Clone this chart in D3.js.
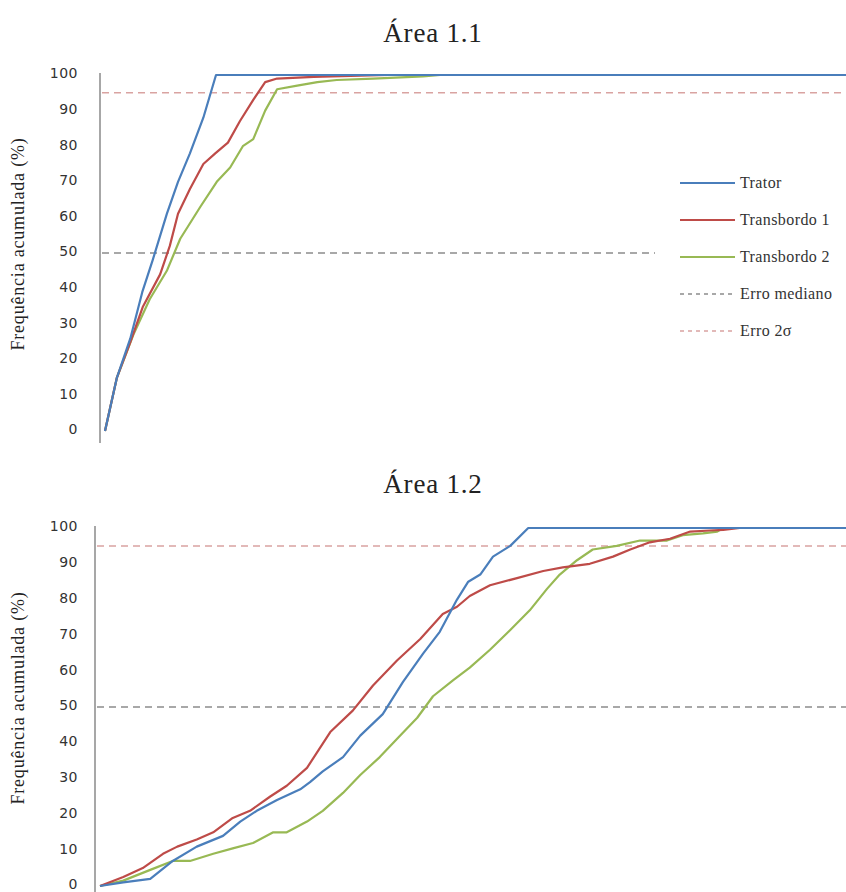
<!DOCTYPE html>
<html>
<head>
<meta charset="utf-8">
<script src="https://cdn.jsdelivr.net/npm/d3@7"></script>
<style>
  body { margin: 0; background: #fff; }
  svg { display: block; }
</style>
</head>
<body>
<svg id="chart" width="846" height="892"></svg>
<script>
// ---- data ----
var seriesNames = ["Trator", "Transbordo 1", "Transbordo 2"];
var refNames = ["Erro mediano", "Erro 2σ"];
var refValues = [50, 95];
var yTicks = [0, 10, 20, 30, 40, 50, 60, 70, 80, 90, 100];

// Área 1.1  [x, frequência acumulada %]
var a11_trator = [[0,0],[0.16,15],[0.34,26],[0.5,39],[0.64,48],[0.83,61],[0.98,70],[1.14,78],[1.32,88],[1.49,100],[10,100]];
var a11_transb1 = [[0,0],[0.16,15],[0.34,25],[0.51,35],[0.74,44],[0.87,52],[0.98,61],[1.14,68],[1.32,75],[1.48,78],[1.65,81],
                   [1.81,87],[1.99,93],[2.15,98],[2.31,99],[2.8,99.5],[3.8,100],[10,100]];
var a11_transb2 = [[0,0],[0.16,15],[0.38,27],[0.6,37],[0.83,45],[1.01,54],[1.28,63],[1.5,70],[1.68,74],[1.85,80],[1.99,82],
                   [2.15,90],[2.31,96],[2.58,97],[2.85,98],[3.11,98.6],[3.6,99],[4.27,99.6],[4.5,100],[10,100]];

// Área 1.2
var a12_trator = [[0,0],[0.31,1],[0.67,2],[0.97,7],[1.29,11],[1.64,14],[1.87,18],[2.09,21],[2.36,24],[2.67,27],[2.8,29],
                  [2.97,32],[3.24,36],[3.47,42],[3.77,48],[4.04,57],[4.31,65],[4.53,71],[4.76,80],[4.91,85],[5.07,87],
                  [5.24,92],[5.47,95],[5.71,100],[10,100]];
var a12_transb1 = [[0,0],[0.31,2.5],[0.57,5],[0.84,9],[1.03,11],[1.29,13],[1.51,15],[1.77,19],[2.0,21],[2.27,25],[2.49,28],
                   [2.76,33],[3.07,43],[3.37,49],[3.64,56],[3.96,63],[4.27,69],[4.57,76],[4.76,78],[4.93,81],[5.2,84],
                   [5.56,86],[5.91,88],[6.17,89],[6.53,90],[6.84,92],[7.07,94],[7.33,96],[7.6,97],[7.87,99],[8.13,99.3],
                   [8.31,99.5],[8.53,100],[10,100]];
var a12_transb2 = [[0,0],[0.31,1.5],[0.67,4.5],[0.97,7],[1.2,7],[1.51,9],[1.77,10.5],[2.04,12],[2.31,15],[2.49,15],[2.76,18],
                   [2.97,21],[3.24,26],[3.47,31],[3.73,36],[4.0,42],[4.23,47],[4.44,53],[4.71,57.5],[4.93,61],[5.2,66],
                   [5.47,71.5],[5.73,77],[5.96,83],[6.13,87],[6.36,91],[6.57,94],[6.89,95],[7.2,96.5],[7.56,96.5],
                   [7.77,98],[8.04,98.5],[8.23,99],[8.31,100],[10,100]];

var colors = ["#4a7ebb", "#be4b48", "#98b954"];
var refColors = ["#8c8c8c", "#d9a3a1"];
var serif = "'Liberation Serif', 'DejaVu Serif', serif";

var svg = d3.select("#chart");

function draw_panel(opt) {
    var x = d3.scaleLinear().domain([0, 10]).range([opt.x0, 850]);
    var y = d3.scaleLinear().domain([0, 100]).range([opt.y0, opt.y100]);
    var g = svg.append("g");

    // title
    g.append("text")
        .attr("x", 433).attr("y", opt.titleY)
        .attr("text-anchor", "middle")
        .style("font-family", serif)
        .style("font-size", "27px")
        .style("letter-spacing", "0.8px")
        .style("fill", "#222")
        .text(opt.title);

    // y axis labels
    var yAxis = d3.axisLeft(y).tickValues(yTicks).tickSize(0).tickPadding(opt.pad);
    var ax = g.append("g")
        .attr("transform", `translate(${opt.axisX},0)`)
        .call(yAxis);
    ax.select(".domain").remove();
    ax.selectAll("text")
        .attr("dy", "0.2em")
        .style("font-family", "'DejaVu Sans', Verdana, sans-serif")
        .style("font-size", "14px")
        .style("letter-spacing", "0.5px")
        .style("fill", "#333");

    // axis line
    g.append("line")
        .attr("x1", opt.axisX).attr("x2", opt.axisX)
        .attr("y1", y(100) - 2).attr("y2", y(0) + 12)
        .attr("stroke", "#8a8a8a").attr("stroke-width", 1.5);

    // y title
    g.append("text")
        .attr("transform", `translate(24,${opt.labelY}) rotate(-90)`)
        .attr("text-anchor", "middle")
        .style("font-family", serif)
        .style("font-size", "18px")
        .style("letter-spacing", "0.8px")
        .style("fill", "#222")
        .text("Frequência acumulada (%)");

    // reference lines
    refValues.forEach(function(v, i) {
        g.append("line")
            .attr("x1", opt.axisX + 2).attr("x2", 846)
            .attr("y1", y(v)).attr("y2", y(v))
            .attr("stroke", refColors[i]).attr("stroke-width", 1.5)
            .attr("stroke-dasharray", "7,5");
    });

    var line = d3.line().x(d => x(d[0])).y(d => y(d[1]));
    // draw green first so blue sits on top
    [2, 1, 0].forEach(function(i) {
        g.append("path")
            .datum(opt.data[i])
            .attr("d", line)
            .attr("fill", "none")
            .attr("stroke", colors[i])
            .attr("stroke-width", 2.2)
            .attr("stroke-linejoin", "round");
    });
    return g;
}

var top_g = draw_panel({title: "Área 1.1", titleY: 42, x0: 105, axisX: 100, pad: 22,
    y0: 431, y100: 75, labelY: 244, data: [a11_trator, a11_transb1, a11_transb2]});

draw_panel({title: "Área 1.2", titleY: 493, x0: 100, axisX: 95, pad: 17,
    y0: 886, y100: 528, labelY: 698, data: [a12_trator, a12_transb1, a12_transb2]});

// legend (top panel only)
var leg = top_g.append("g");
leg.append("rect")
    .attr("x", 655).attr("y", 165).attr("width", 191).attr("height", 185)
    .attr("fill", "#fff");
var legY = [183, 220, 257, 294, 331];
var legItems = seriesNames.map((n, i) => ({name: n, color: colors[i], dash: null}))
    .concat(refNames.map((n, i) => ({name: n, color: refColors[i], dash: "4,4"})));
legItems.forEach(function(d, i) {
    leg.append("line")
        .attr("x1", 680).attr("x2", 735)
        .attr("y1", legY[i]).attr("y2", legY[i])
        .attr("stroke", d.color)
        .attr("stroke-width", d.dash ? 1.5 : 2)
        .attr("stroke-dasharray", d.dash);
    leg.append("text")
        .attr("x", 740).attr("y", legY[i] + 5)
        .style("font-family", serif)
        .style("font-size", "16px")
        .style("letter-spacing", "0.4px")
        .style("fill", "#333")
        .text(d.name);
});
</script>
</body>
</html>
